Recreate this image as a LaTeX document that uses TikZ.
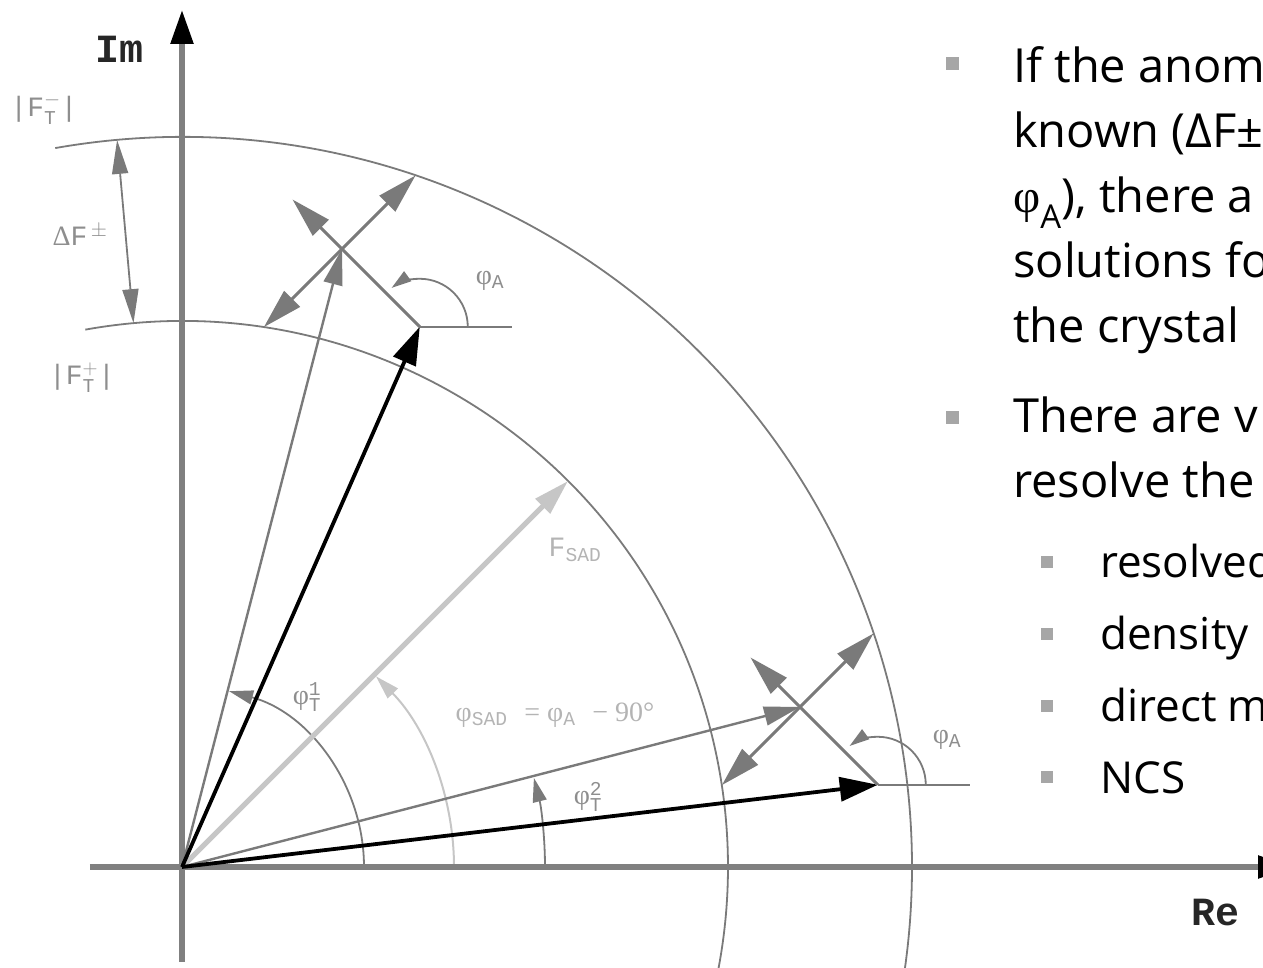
\documentclass[tikz,border=0pt]{standalone}
\usepackage{fontspec}
\usepackage{amsmath}
\setmainfont{Open Sans}
\newfontfamily\dmono{Liberation Mono}
\newfontfamily\dgreek{Liberation Serif}
\newfontfamily\bodyfont{Open Sans}
\usetikzlibrary{arrows.meta,calc}
\definecolor{axisgray}{HTML}{808080}
\definecolor{linegray}{HTML}{7A7A7A}
\definecolor{labgray}{HTML}{8E8E8E}
\definecolor{sadgray}{HTML}{C6C6C6}
\definecolor{sadlab}{HTML}{B4B4B4}
\definecolor{bulletgray}{HTML}{A6A6A6}
\begin{document}
\begin{tikzpicture}[x=1pt,y=1pt,
  axisline/.style={axisgray, line width=5.5pt, -{Triangle[length=34pt,width=22pt,color=black]}},
  circ/.style={linegray, line width=1.8pt},
  vecthin/.style={linegray, line width=2.4pt, -{Triangle[length=36pt,width=19pt]}},
  vecblack/.style={black, line width=3.8pt, -{Triangle[length=38pt,width=24pt]}},
  vecsad/.style={sadgray, line width=5pt, -{Triangle[length=36pt,width=20pt]}},
  faline/.style={linegray, line width=3pt},
  fatip/.style={-{Triangle[length=40pt,width=22pt]}},
  fadbl/.style={{Triangle[length=40pt,width=22pt]}-{Triangle[length=40pt,width=22pt]}},
  anglearc/.style={linegray, line width=1.8pt, -{Triangle[length=24pt,width=14pt]}},
  phiarc/.style={linegray, line width=1.8pt, -{Triangle[length=20pt,width=12pt]}},
  sadarc/.style={sadgray, line width=2pt, -{Triangle[length=24pt,width=14pt]}},
  dimarrow/.style={linegray, line width=1.8pt, {Triangle[length=34pt,width=16pt]}-{Triangle[length=34pt,width=16pt]}},
  lab/.style={text=labgray, font=\dmono\fontsize{28}{30}\selectfont, inner sep=0pt},
  smalllab/.style={text=labgray, font=\dmono\fontsize{28}{30}\selectfont, inner sep=0pt},
  sadlabel/.style={text=sadlab, font=\dmono\fontsize{28}{30}\selectfont, inner sep=0pt},
  axlab/.style={text=black!85, font=\dmono\bfseries\fontsize{40}{42}\selectfont, inner sep=0pt},
  bodytext/.style={anchor=base west, inner sep=0pt, font=\bodyfont\fontsize{47}{56}\selectfont},
  subtext/.style={anchor=base west, inner sep=0pt, font=\bodyfont\fontsize{44}{52}\selectfont},
  bullet/.style={fill=bulletgray, minimum width=13pt, minimum height=13pt, inner sep=0pt},
  subbullet/.style={fill=bulletgray, minimum width=12pt, minimum height=12pt, inner sep=0pt}
]
\useasboundingbox (-182,-101) rectangle (1081,867);
\clip (-182,-101) rectangle (1081,867);

% key points
\coordinate (O) at (0,0);
\coordinate (X1) at (160,618);
\coordinate (X2) at (618,160);
\coordinate (P1) at ($(X1)+(-45:110)$);
\coordinate (P2) at ($(X2)+(-45:110)$);
\coordinate (E1) at ($(P1)+(135:180)$);
\coordinate (E2) at ($(P2)+(135:180)$);
\coordinate (U1) at ($(X1)+(45:104)$);
\coordinate (L1) at ($(X1)+(225:110.5)$);
\coordinate (U2) at ($(X2)+(45:104)$);
\coordinate (L2) at ($(X2)+(225:110.5)$);
\coordinate (H1) at ($(P1)+(92,0)$);
\coordinate (H2) at ($(P2)+(92,0)$);
\coordinate (S) at (45:546);
\coordinate (ImB) at (0,-95);
\coordinate (ImT) at (0,857);
\coordinate (ReL) at (-92,0);
\coordinate (ReR) at (1110,0);
\coordinate (DFa) at (95.1:546);
\coordinate (DFb) at (95.1:730);

% circles
\draw[circ] (100:730) arc[start angle=100, end angle=-16, radius=730];
\draw[circ] (100.2:546) arc[start angle=100.2, end angle=-20, radius=546];

% angle arcs
\draw[anglearc] (182,0) arc[start angle=0, end angle=75, radius=182];
\draw[sadarc] (272,0) arc[start angle=0, end angle=44.5, radius=272];
\draw[anglearc] (363,0) arc[start angle=0, end angle=14.2, radius=363];

% axes
\draw[axisline] (ImB) -- (ImT);
\draw[axisline] (ReL) -- (ReR);

% SAD vector
\draw[vecsad] (O) -- (S);

% vectors from origin
\draw[vecthin] (O) -- (X1);
\draw[vecthin] (O) -- (X2);
\draw[vecblack] (O) -- (P1);
\draw[vecblack] (O) -- (P2);

% horizontal reference lines and phi_A arcs
\draw[circ] (P1) -- (H1);
\draw[circ] (P2) -- (H2);
\draw[phiarc] ($(P1)+(48,0)$) arc[start angle=0, end angle=126, radius=48];
\draw[phiarc] ($(P2)+(48,0)$) arc[start angle=0, end angle=126, radius=48];

% anomalous contributions
\draw[faline, fatip] (P1) -- (E1);
\draw[faline, fatip] (P2) -- (E2);
\draw[faline, fadbl] (L1) -- (U1);
\draw[faline, fadbl] (L2) -- (U2);

% Delta F dimension
\draw[dimarrow] (DFa) -- (DFb);

% labels
\node[axlab] (im) at (-62,818) {Im};
\node[axlab] (re) at (1033,-46) {Re};
\node[smalllab] (fm) at (-138,758) {|F$^{-}_{\text{T}}$|};
\node[lab] (df) at (-102,632) {{\dgreek Δ}F$^{\,\pm}$};
\node[smalllab] (fp) at (-100,489) {|F$^{+}_{\text{T}}$|};
\node[lab] (pa1) at (308,586) {{\dgreek φ}$_{\text{A}}$};
\node[lab] (pa2) at (765,127) {{\dgreek φ}$_{\text{A}}$};
\node[sadlabel] (fsad) at (393,317) {F$_{\text{SAD}}$};
\node[lab] (pt1) at (125,170) {{\dgreek φ}$^{\text{1}}_{\text{T}}$};
\node[sadlabel] (psad) at (373,152) {{\dgreek φ}$_{\text{SAD}}$ {\dgreek = φ}$_{\text{A}}$ {\dgreek − 90°}};
\node[lab] (pt2) at (406,70) {{\dgreek φ}$^{\text{2}}_{\text{T}}$};

% right-hand text
\node[bullet] (b1) at (770,803) {};
\node[bodytext] (t1) at (831,784) {If the anom};
\node[bodytext] (t2) at (831,719) {known (ΔF±};
\node[bodytext] (t3) at (831,654) {{\dgreek φ}\textsubscript{A}), there a};
\node[bodytext] (t4) at (831,589) {solutions fo};
\node[bodytext] (t5) at (831,524) {the crystal};
\node[bullet] (b2) at (770,449) {};
\node[bodytext] (t6) at (831,434) {There are v};
\node[bodytext] (t7) at (831,369) {resolve the};
\node[subbullet] (s1) at (865,305) {};
\node[subtext] (u1) at (918,289) {resolved};
\node[subbullet] (s2) at (865,233) {};
\node[subtext] (u2) at (918,217) {density};
\node[subbullet] (s3) at (865,161) {};
\node[subtext] (u3) at (918,145) {direct m};
\node[subbullet] (s4) at (865,90) {};
\node[subtext] (u4) at (918,73) {NCS};
\end{tikzpicture}
\end{document}
